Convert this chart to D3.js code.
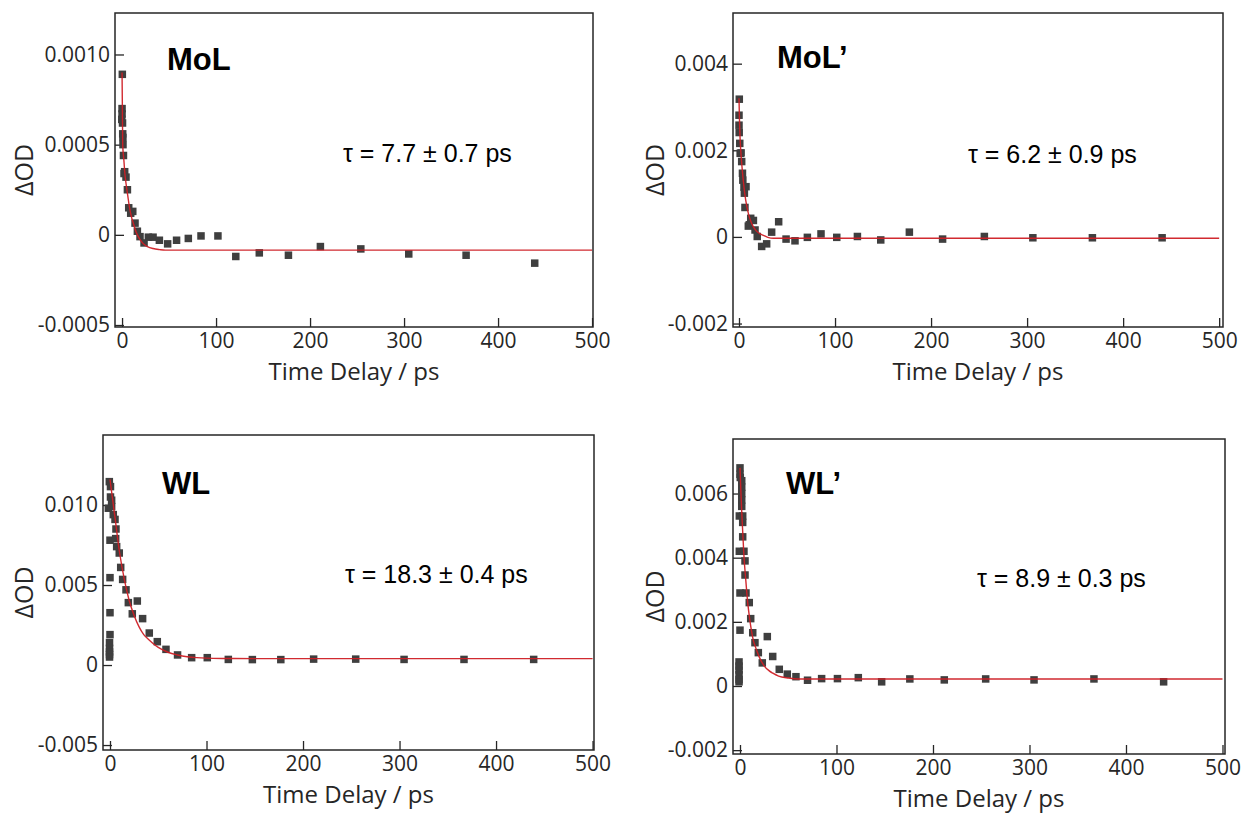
<!DOCTYPE html>
<html><head><meta charset="utf-8">
<script src="https://cdn.jsdelivr.net/npm/d3@7"></script>
<style>
body{margin:0;background:#fff;}
svg{display:block;}
</style></head><body>
<svg id="chart" width="1242" height="814"></svg>
<script>
// ---------------- DATA ----------------
const xTicks = [0, 100, 200, 300, 400, 500];
const xTickLabels = ["0", "100", "200", "300", "400", "500"];
const xLabel = "Time Delay / ps";
const yLabel = "\u0394OD";

// MoL
const molTitle = "MoL";
const molTau = "\u03c4 = 7.7 \u00b1 0.7 ps";
const molYTicks = [0.001, 0.0005, 0, -0.0005];
const molYTickLabels = ["0.0010", "0.0005", "0", "-0.0005"];
const molT = [0, 0, -0.3, 0.3, 0.5, 0.7, 0.9, 1.0, 1.5, 2.1, 2.8, 4.2, 5.7, 7.1, 9.2, 11.4, 13.8, 16.3, 19.1, 23.4, 28, 33, 39.7, 48.5, 58, 70.5, 84, 102, 121, 146, 177, 211, 254, 305, 366, 439];
const molV = [0.00070, 0.00067, 0.00064, 0.00089, 0.00062, 0.00056, 0.00054, 0.00050, 0.00044, 0.00034, 0.00035, 0.00032, 0.00025, 0.00015, 0.00012, 0.00013, 0.000065, 0.00002, -0.00001, -0.000045, -0.000013, -0.000013, -0.00003, -0.00005, -0.00003, -0.00002, -0.000006, -0.000006, -0.00012, -0.0001, -0.000113, -0.000065, -0.000078, -0.000106, -0.000113, -0.000157];
const molFitT = [0, 0.3, 0.7, 2, 3, 4.3, 6, 8, 10, 12, 14, 16.3, 19, 22.7, 27, 33, 40, 46, 100, 200, 300, 400, 500];
const molFitV = [0.00090, 0.00073, 0.00050, 0.00041, 0.00034, 0.000282, 0.00022, 0.00015, 0.0001, 0.000065, 0.00003, 0, -0.000025, -0.00005, -0.000065, -0.000076, -0.000082, -0.000085, -0.000085, -0.000085, -0.000085, -0.000085, -0.000085];

// MoL'
const molpTitle = "MoL\u2019";
const molpTau = "\u03c4 = 6.2 \u00b1 0.9 ps";
const molpYTicks = [0.004, 0.002, 0, -0.002];
const molpYTickLabels = ["0.004", "0.002", "0", "-0.002"];
const molpT = [0.3, 0, 0, 0.2, 0.8, 1.2, 2.2, 2.8, 3.6, 4.0, 5.2, 5.6, 6.2, 7.3, 9.7, 10.7, 12.2, 15, 16.7, 19, 23.6, 28.8, 34, 41.3, 49, 58.3, 71.2, 85.4, 101.8, 123.3, 147.6, 177.4, 212, 255.5, 306, 368, 440.6];
const molpV = [0.00318, 0.00281, 0.00258, 0.00241, 0.00216, 0.00193, 0.00194, 0.00174, 0.00147, 0.00131, 0.00115, 0.00101, 0.00068, 0.00116, 0.00025, 0.00028, 0.00043, 0.00038, 0.00016, 0.00001, -0.00022, -0.00016, 0.00011, 0.00035, -0.00005, -0.00009, -0.00001, 0.00007, -0.00001, 0.00001, -0.00007, 0.00011, -0.00005, 0.00001, -0.00002, -0.00002, -0.00002];
const molpFitT = [0, 0.5, 1, 1.8, 3, 4.5, 6, 8, 10, 12, 15, 18, 22, 26, 30, 36, 100, 200, 300, 400, 500];
const molpFitV = [0.0032, 0.0027, 0.00235, 0.0020, 0.00165, 0.00129, 0.0010, 0.00072, 0.00052, 0.00038, 0.00023, 0.00014, 0.00007, 0.00003, -0.00001, -0.00003, -0.00003, -0.00003, -0.00003, -0.00003, -0.00003];

// WL
const wlTitle = "WL";
const wlTau = "\u03c4 = 18.3 \u00b1 0.4 ps";
const wlYTicks = [0.010, 0.005, 0, -0.005];
const wlYTickLabels = ["0.010", "0.005", "0", "-0.005"];
const wlT = [-0.7, 0.5, 0.5, -1.7, 1.7, 1.7, 3.4, 5.2, 6.2, 0, 5.9, 6.9, 9.6, 11.1, 0, 13.1, 16.6, 19, 28.3, 23.1, 0, 33.8, 40.7, 0, 49, 58, -0.5, -0.5, -0.5, -0.5, -0.5, 70, 84.6, 100.8, 122.6, 147.5, 177, 211, 254.6, 304.7, 366.8, 439];
const wlV = [0.01146, 0.01115, 0.0105, 0.0098, 0.0103, 0.0099, 0.0094, 0.0091, 0.0085, 0.0078, 0.0079, 0.0074, 0.0070, 0.0061, 0.00546, 0.00535, 0.0047, 0.0039, 0.0040, 0.0032, 0.00327, 0.0029, 0.0020, 0.0019, 0.00146, 0.00098, 0.0014, 0.00104, 0.00082, 0.00065, 0.0005, 0.00063, 0.00046, 0.00046, 0.00035, 0.00034, 0.00034, 0.00037, 0.00037, 0.00035, 0.00035, 0.00035];
const wlFitT = [0, 5, 10, 15, 20, 25, 30, 35, 40, 50, 60, 70, 80, 90, 100, 120, 150, 500];
const wlFitV = [0.0116, 0.0093, 0.0070, 0.0053, 0.0040, 0.0031, 0.0024, 0.0019, 0.0016, 0.0011, 0.00080, 0.00063, 0.00052, 0.00046, 0.00043, 0.00041, 0.0004, 0.0004];

// WL'
const wlpTitle = "WL\u2019";
const wlpTau = "\u03c4 = 8.9 \u00b1 0.3 ps";
const wlpYTicks = [0.006, 0.004, 0.002, 0, -0.002];
const wlpYTickLabels = ["0.006", "0.004", "0.002", "0", "-0.002"];
const wlpT = [0, 0, 0.3, -0.7, -0.7, 1.8, 1.8, 1.8, 1.8, 1.8, 2.8, 2.8, 2.8, 4.1, 5.2, 5.2, 0, 6.2, 9.6, 11.1, 0, 13.2, 15.5, 28.3, 19, 33.9, 23.1, 40.7, 49, 58, 70, 84.6, 101, 122.6, 146.8, 176, 211.7, 254.6, 304.7, 366.8, 439, -1, -1, -1, -1, -1, -1];
const wlpV = [0.0068, 0.0066, 0.0065, 0.0053, 0.0042, 0.0064, 0.0062, 0.0060, 0.0058, 0.0056, 0.0053, 0.0051, 0.00465, 0.0042, 0.0039, 0.00346, 0.0029, 0.0029, 0.0026, 0.0021, 0.00174, 0.00166, 0.00135, 0.00154, 0.00104, 0.00092, 0.00072, 0.00052, 0.00037, 0.00029, 0.00018, 0.00023, 0.00023, 0.00026, 0.00013, 0.00022, 0.00019, 0.00022, 0.00019, 0.00022, 0.00013, 0.00075, 0.00062, 0.0005, 0.00035, 0.0002, 0.00013];
const wlpFitT = [0, 1, 2, 3, 4, 6, 8, 10, 12, 14, 16, 18, 20, 25, 30, 34, 40, 50, 60, 500];
const wlpFitV = [0.0068, 0.0060, 0.0053, 0.0047, 0.0041, 0.0033, 0.0026, 0.0021, 0.0017, 0.0014, 0.00122, 0.00105, 0.0009, 0.00063, 0.00048, 0.0004, 0.00031, 0.00025, 0.00022, 0.00022];

// ---------------- LAYOUT ----------------
const panels = [
  {title: molTitle, tau: molTau, t: molT, v: molV, ft: molFitT, fv: molFitV, yTicks: molYTicks, yLabels: molYTickLabels,
   box: {l: 115, r: 593, t: 13, b: 327}, xDom: [-7.5, 501], yDom: [-0.000511, 0.00123],
   titlePos: [167, 70], tauPos: [343, 162], yLabX: 24},
  {title: molpTitle, tau: molpTau, t: molpT, v: molpV, ft: molpFitT, fv: molpFitV, yTicks: molpYTicks, yLabels: molpYTickLabels,
   box: {l: 733, r: 1223, t: 13, b: 327}, xDom: [-6.25, 504], yDom: [-0.00208, 0.00517],
   titlePos: [777, 68], tauPos: [968, 163], yLabX: 655},
  {title: wlTitle, tau: wlTau, t: wlT, v: wlV, ft: wlFitT, fv: wlFitV, yTicks: wlYTicks, yLabels: wlYTickLabels,
   box: {l: 103, r: 594, t: 435, b: 750}, xDom: [-7.25, 501.5], yDom: [-0.00531, 0.014375],
   titlePos: [162, 494], tauPos: [345, 583], yLabX: 24},
  {title: wlpTitle, tau: wlpTau, t: wlpT, v: wlpV, ft: wlpFitT, fv: wlpFitV, yTicks: wlpYTicks, yLabels: wlpYTickLabels,
   box: {l: 733, r: 1225, t: 439, b: 754}, xDom: [-7.25, 502.6], yDom: [-0.00212, 0.0077],
   titlePos: [786, 494], tauPos: [977, 587], yLabX: 655}
];

const svg = d3.select("#chart");
const axisFont = "'Open Sans', 'DejaVu Sans', sans-serif";
const ink = "#262626";

panels.forEach(p => {
  const B = p.box;
  const x = d3.scaleLinear().domain(p.xDom).range([B.l, B.r]);
  const y = d3.scaleLinear().domain(p.yDom).range([B.b, B.t]);
  const g = svg.append("g");

  // frame
  g.append("rect").attr("x", B.l).attr("y", B.t).attr("width", B.r - B.l).attr("height", B.b - B.t)
    .attr("fill", "none").attr("stroke", ink).attr("stroke-width", 1.5);

  // x axis
  const xa = g.append("g").attr("transform", `translate(0,${B.b})`)
    .call(d3.axisBottom(x).tickValues(xTicks).tickSize(-9).tickPadding(6)
      .tickFormat((d, i) => xTickLabels[i]));
  xa.select(".domain").remove();
  xa.selectAll("line").attr("stroke", ink).attr("stroke-width", 1.3);
  xa.selectAll("text").attr("font-family", axisFont).attr("font-size", 21).attr("fill", ink);

  // y axis
  const ya = g.append("g").attr("transform", `translate(${B.l},0)`)
    .call(d3.axisLeft(y).tickValues(p.yTicks).tickSize(-9).tickPadding(5)
      .tickFormat((d, i) => p.yLabels[i]));
  ya.select(".domain").remove();
  ya.selectAll("line").attr("stroke", ink).attr("stroke-width", 1.3);
  ya.selectAll("text").attr("font-family", axisFont).attr("font-size", 21).attr("fill", ink);

  // axis titles
  g.append("text").attr("x", (B.l + B.r) / 2).attr("y", B.b + 53)
    .attr("text-anchor", "middle").attr("font-family", axisFont).attr("font-size", 24).attr("fill", ink)
    .text(xLabel);
  g.append("text").attr("transform", `translate(${p.yLabX + 9},${(B.t + B.b) / 2}) rotate(-90)`)
    .attr("text-anchor", "middle").attr("font-family", axisFont).attr("font-size", 25).attr("fill", ink)
    .text(yLabel);

  // data squares
  const pts = p.t.map((t, i) => ({t: t, v: p.v[i]}));
  const s = 7.5;
  g.append("g").selectAll("rect").data(pts).join("rect")
    .attr("x", d => x(d.t) - s / 2).attr("y", d => y(d.v) - s / 2)
    .attr("width", s).attr("height", s).attr("fill", "#3f3f3f");

  // fit line
  const fit = p.ft.map((t, i) => ({t: t, v: p.fv[i]}));
  g.append("path").datum(fit)
    .attr("d", d3.line().x(d => x(d.t)).y(d => y(d.v)).curve(d3.curveMonotoneX))
    .attr("fill", "none").attr("stroke", "#cf1f25").attr("stroke-width", 1.4).attr("opacity", 0.95);

  // title
  g.append("text").attr("x", p.titlePos[0]).attr("y", p.titlePos[1])
    .attr("font-family", "'Liberation Sans', Arial, sans-serif").attr("font-weight", "bold")
    .attr("font-size", 31).attr("fill", "#000").text(p.title);

  // tau
  g.append("text").attr("x", p.tauPos[0]).attr("y", p.tauPos[1])
    .attr("font-family", "'Liberation Sans', Arial, sans-serif")
    .attr("font-size", 25).attr("fill", "#000").text(p.tau);
});
</script>
</body></html>
